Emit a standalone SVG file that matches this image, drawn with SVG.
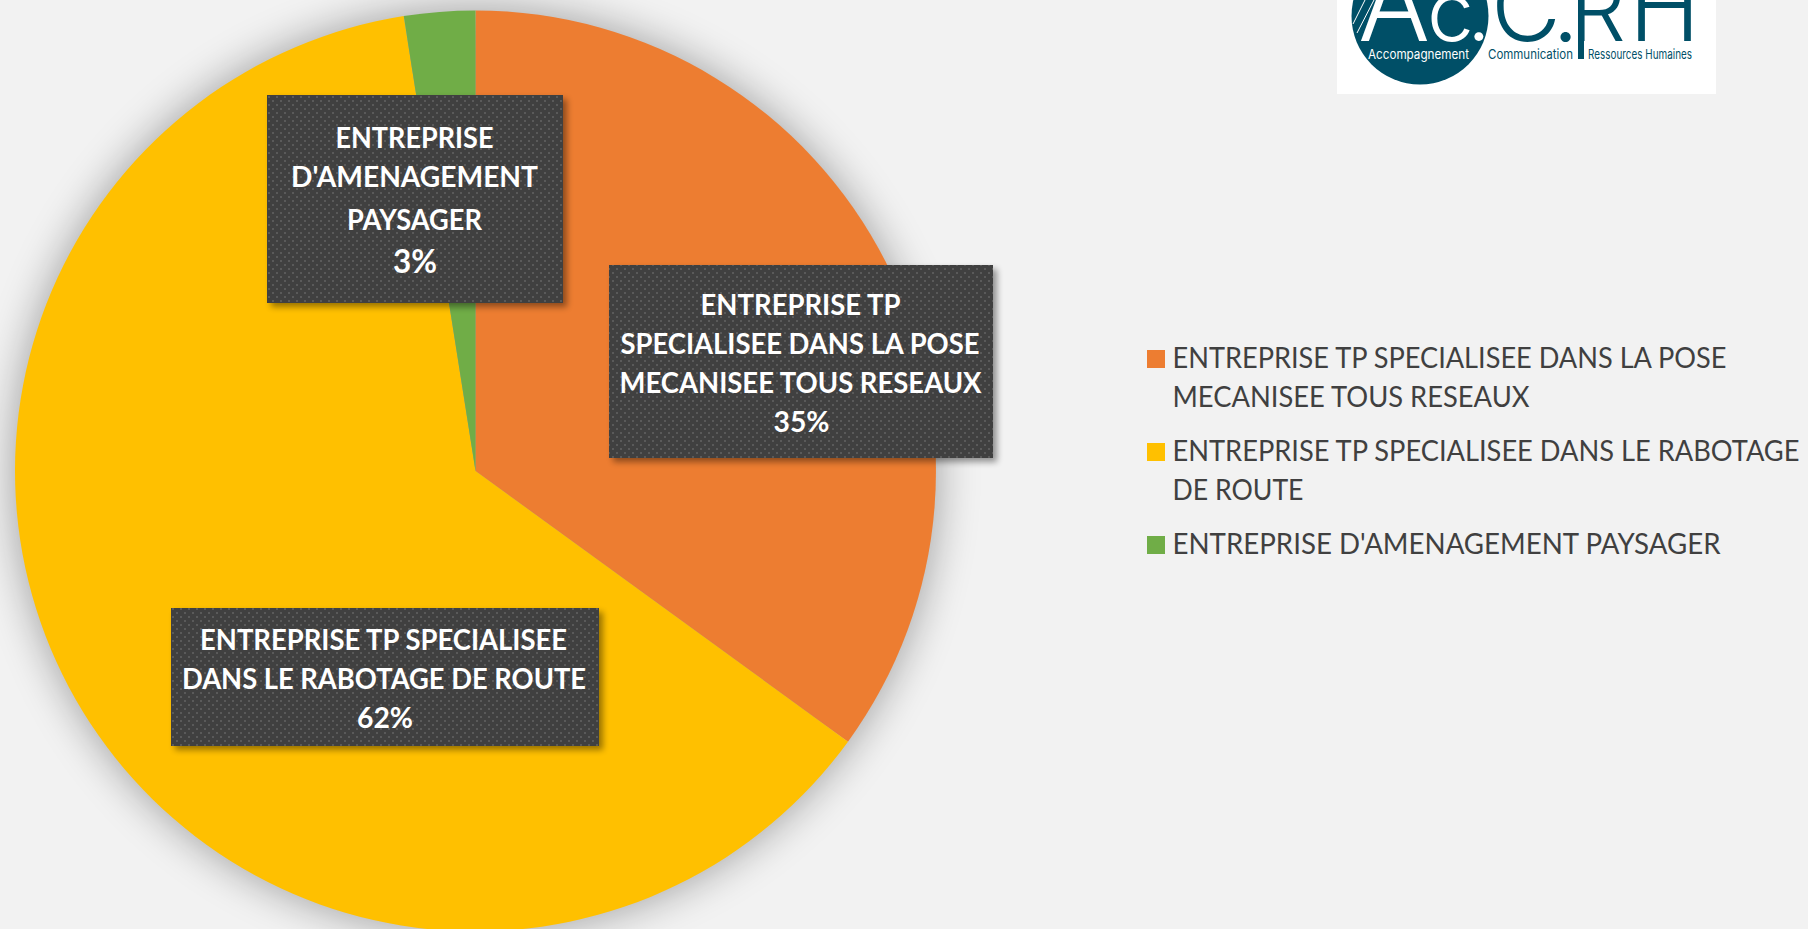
<svg xmlns="http://www.w3.org/2000/svg" width="1808" height="929" viewBox="0 0 1808 929">
  <style>
    text { font-family: "Lato", "Open Sans", "Liberation Sans", sans-serif; }
    .lab { font-weight: 700; font-size: 28px; fill: #ffffff; }
    .big { font-weight: 700; font-size: 33px; fill: #ffffff; }
    .leg { font-size: 29px; fill: #404040; }
    .box { fill: url(#dots); filter: url(#boxShadow); }
    .logoBig { font-family: "Inter", "Open Sans", sans-serif; font-weight: 300; font-size: 84px; }
    .logoSmall { font-family: "Inter", "Open Sans", sans-serif; font-size: 13px; }
    .teal { fill: #004f67; }
  </style>
  <defs>
    <pattern id="dots" width="8" height="8" patternUnits="userSpaceOnUse" x="267" y="95">
      <rect width="8" height="8" fill="#404040"/>
      <rect x="1" y="1" width="2" height="2" fill="#5a5a5a"/>
      <rect x="5" y="5" width="2" height="2" fill="#5a5a5a"/>
    </pattern>
    <filter id="pieShadow" filterUnits="userSpaceOnUse" x="-200" y="-200" width="1400" height="1400" color-interpolation-filters="sRGB">
      <feGaussianBlur in="SourceAlpha" stdDeviation="22"/>
      <feComponentTransfer><feFuncA type="linear" slope="0.36"/></feComponentTransfer>
      <feMerge><feMergeNode/><feMergeNode in="SourceGraphic"/></feMerge>
    </filter>
    <filter id="boxShadow" x="-10%" y="-10%" width="125%" height="130%" color-interpolation-filters="sRGB">
      <feGaussianBlur in="SourceAlpha" stdDeviation="3"/>
      <feOffset dx="4" dy="4"/>
      <feComponentTransfer><feFuncA type="linear" slope="0.4"/></feComponentTransfer>
      <feMerge><feMergeNode/><feMergeNode in="SourceGraphic"/></feMerge>
    </filter>
    <clipPath id="logoClip"><rect x="1337" y="0" width="379" height="94"/></clipPath>
  </defs>

  <rect id="background" width="1808" height="929" fill="#f2f2f2"/>

  <g id="pie">
    <g filter="url(#pieShadow)">
      <path id="slice-orange" fill="#ed7d31" d="M475.5 471 L475.5 10.5 A460.5 460.5 0 0 1 848 741.7 Z"/>
      <path id="slice-yellow" fill="#ffc000" d="M475.5 471 L848 741.7 A460.5 460.5 0 1 1 403.7 16.1 Z"/>
      <path id="slice-green" fill="#70ad47" d="M475.5 471 L403.7 16.1 A460.5 460.5 0 0 1 475.5 10.5 Z"/>
    </g>
  </g>

  <g id="connectors"></g>

  <g id="label-paysager">
    <rect class="box" x="267" y="95" width="296" height="208"/>
    <text class="lab" x="335.5" y="147.5" textLength="158" lengthAdjust="spacingAndGlyphs">ENTREPRISE</text>
    <text class="lab" x="291" y="186.5" textLength="247" lengthAdjust="spacingAndGlyphs">D'AMENAGEMENT</text>
    <text class="lab" x="347" y="229.5" textLength="135" lengthAdjust="spacingAndGlyphs">PAYSAGER</text>
    <text class="big" x="393" y="272.5" textLength="44" lengthAdjust="spacingAndGlyphs">3%</text>
  </g>

  <g id="label-pose">
    <rect class="box" x="609" y="265" width="384" height="193"/>
    <text class="lab" x="700.5" y="314.5" textLength="200" lengthAdjust="spacingAndGlyphs">ENTREPRISE TP</text>
    <text class="lab" x="620.5" y="353.5" textLength="359" lengthAdjust="spacingAndGlyphs">SPECIALISEE DANS LA POSE</text>
    <text class="lab" x="619.5" y="392.5" textLength="362" lengthAdjust="spacingAndGlyphs">MECANISEE TOUS RESEAUX</text>
    <text class="lab" x="773.5" y="431.5" textLength="56" lengthAdjust="spacingAndGlyphs">35%</text>
  </g>

  <g id="label-rabotage">
    <rect class="box" x="171" y="608" width="428" height="138"/>
    <text class="lab" x="200" y="649.5" textLength="367" lengthAdjust="spacingAndGlyphs">ENTREPRISE TP SPECIALISEE</text>
    <text class="lab" x="182" y="688.5" textLength="404" lengthAdjust="spacingAndGlyphs">DANS LE RABOTAGE DE ROUTE</text>
    <text class="lab" x="357" y="727.5" textLength="56" lengthAdjust="spacingAndGlyphs">62%</text>
  </g>

  <g id="legend">
    <g id="legend-pose">
      <rect x="1147" y="350" width="18" height="18" fill="#ed7d31"/>
      <text class="leg" x="1172.5" y="367.5" textLength="554" lengthAdjust="spacingAndGlyphs">ENTREPRISE TP SPECIALISEE DANS LA POSE</text>
      <text class="leg" x="1172.5" y="407" textLength="357" lengthAdjust="spacingAndGlyphs">MECANISEE TOUS RESEAUX</text>
    </g>
    <g id="legend-rabotage">
      <rect x="1147" y="443" width="18" height="18" fill="#ffc000"/>
      <text class="leg" x="1172.5" y="460.5" textLength="627" lengthAdjust="spacingAndGlyphs">ENTREPRISE TP SPECIALISEE DANS LE RABOTAGE</text>
      <text class="leg" x="1172.5" y="500" textLength="131" lengthAdjust="spacingAndGlyphs">DE ROUTE</text>
    </g>
    <g id="legend-paysager">
      <rect x="1147" y="536" width="18" height="18" fill="#70ad47"/>
      <text class="leg" x="1172.5" y="553.5" textLength="548" lengthAdjust="spacingAndGlyphs">ENTREPRISE D'AMENAGEMENT PAYSAGER</text>
    </g>
  </g>

  <g id="logo" clip-path="url(#logoClip)">
    <rect x="1337" y="0" width="379" height="94" fill="#ffffff"/>
    <circle class="teal" cx="1420" cy="16" r="68.5"/>
    <g stroke="#ffffff" stroke-width="1" fill="none">
      <line x1="1353" y1="24" x2="1365" y2="0"/>
      <line x1="1357" y1="33" x2="1374" y2="0"/>
    </g>
    <text class="logoBig" y="41" fill="#ffffff"><tspan x="1358" font-size="107">A</tspan><tspan x="1427 1467">c.</tspan></text>
    <rect class="teal" x="1578" y="0" width="6" height="59"/>
    <text class="logoBig teal" y="41"><tspan x="1491 1552" font-size="96">C.</tspan><tspan x="1570" font-size="88">R</tspan><tspan x="1629" font-size="96">H</tspan></text>
    <text class="logoSmall" x="1368" y="59" fill="#ffffff" textLength="101" lengthAdjust="spacingAndGlyphs">Accompagnement</text>
    <text class="logoSmall teal" x="1488" y="59" textLength="85" lengthAdjust="spacingAndGlyphs">Communication</text>
    <text class="logoSmall teal" x="1588" y="59" textLength="104" lengthAdjust="spacingAndGlyphs">Ressources Humaines</text>
  </g>
</svg>
